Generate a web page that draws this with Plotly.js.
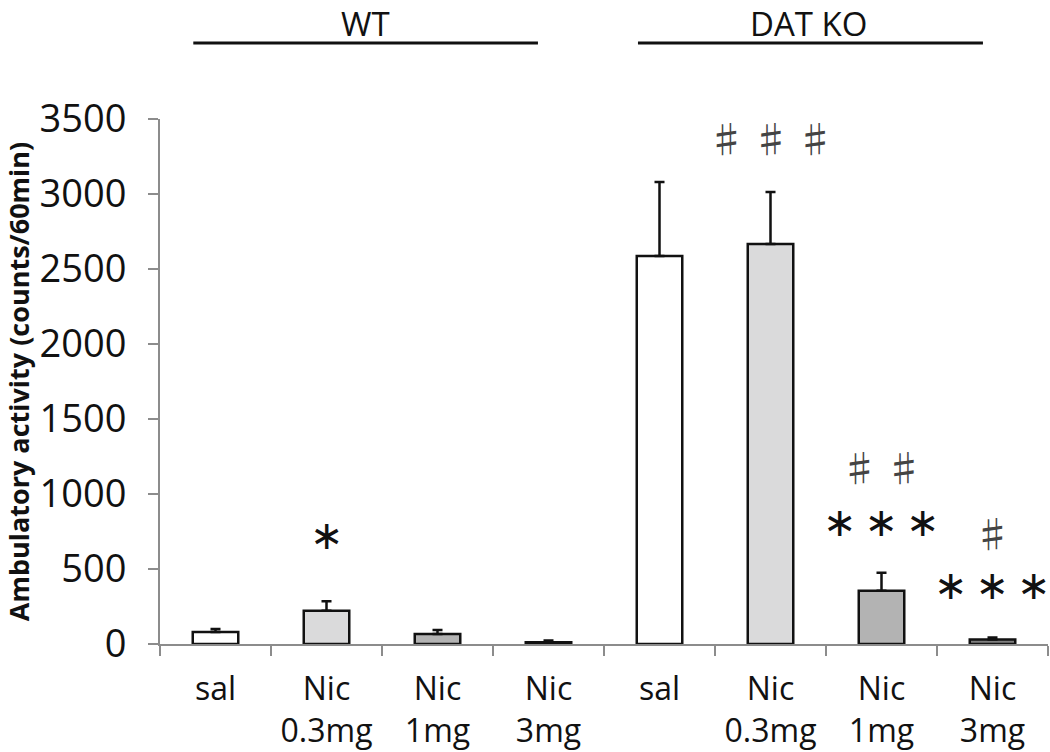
<!DOCTYPE html>
<html>
<head>
<meta charset="utf-8">
<script src="https://cdn.plot.ly/plotly-3.0.1.min.js"></script>
<style>html,body{margin:0;padding:0;background:#fff;}#chart{width:1050px;height:752px;}</style>
</head>
<body>
<div id="chart"></div>
<script>
// ---- data ----
const tickLabels = ["sal", "Nic<br>0.3mg", "Nic<br>1mg", "Nic<br>3mg", "sal", "Nic<br>0.3mg", "Nic<br>1mg", "Nic<br>3mg"];
const values = [80, 222, 67, 12, 2587, 2667, 355, 30];
const errors = [20, 63, 26, 12, 493, 346, 120, 14];
const barColors = ["#ffffff", "#dadadb", "#b3b3b3", "#7f7f7f", "#ffffff", "#dadadb", "#b3b3b3", "#7f7f7f"];
const groupLabels = ["WT", "DAT KO"];
const sigText = ["∗", "♯\u2009♯\u2009♯", "♯\u2009♯", "∗\u2009∗\u2009∗", "♯", "∗\u2009∗\u2009∗"];
const sigCat = [1, 5, 6, 6, 7, 7];
const sigY = [727, 3373, 1180, 813, 740, 393];
const sigKind = ["star", "sharp", "sharp", "star", "sharp", "star"];

const idx = values.map((_, i) => i);

const trace = {
  type: "bar",
  x: idx,
  y: values,
  width: 0.41,
  marker: {color: barColors, line: {color: "#111", width: 2.5}},
  error_y: {type: "data", symmetric: false, array: errors, arrayminus: errors.map(() => 0),
            color: "#111", thickness: 2.5, width: 5},
  hoverinfo: "y"
};

const annotations = sigText.map((t, i) => ({
  x: sigCat[i], y: sigY[i], xref: "x", yref: "y", text: t, showarrow: false, yanchor: "middle",
  font: sigKind[i] === "star"
    ? {family: "DejaVu Sans", size: 40, color: "#111"}
    : {family: "Noto Sans CJK JP", size: 37, color: "#444"}
}));
annotations.push({x: 1.35, y: 1.2267, xref: "x", yref: "paper", yanchor: "top", borderpad: 0, text: groupLabels[0], showarrow: false,
  font: {family: "Open Sans", size: 33, color: "#111"}});
annotations.push({x: 5.34, y: 1.2267, xref: "x", yref: "paper", yanchor: "top", borderpad: 0, text: groupLabels[1], showarrow: false,
  font: {family: "Open Sans", size: 33, color: "#111"}});

const shapes = [
  {type: "line", xref: "x", yref: "paper", x0: -0.2, x1: 2.905, y0: 1.145, y1: 1.145, line: {color: "#111", width: 3}},
  {type: "line", xref: "x", yref: "paper", x0: 3.806, x1: 6.914, y0: 1.145, y1: 1.145, line: {color: "#111", width: 3}}
];

const layout = {
  width: 1050, height: 752,
  margin: {l: 160, r: 2, t: 119, b: 108},
  paper_bgcolor: "#fff", plot_bgcolor: "#fff",
  showlegend: false,
  font: {family: "Open Sans", color: "#111"},
  xaxis: {
    range: [-0.5, 7.5], tickvals: idx, ticktext: tickLabels, ticks: "",
    minor: {tick0: -0.5, dtick: 1, ticks: "outside", ticklen: 10, tickcolor: "#8c8c8c", tickwidth: 2, showgrid: false},
    showline: true, linecolor: "#8c8c8c", linewidth: 2, showgrid: false, zeroline: false,
    tickfont: {family: "Open Sans", size: 32, color: "#111"}, ticklabelstandoff: 16,
    fixedrange: true
  },
  yaxis: {
    range: [0, 3500], dtick: 500, ticks: "outside", ticklen: 10, tickcolor: "#8c8c8c", tickwidth: 2,
    showline: true, linecolor: "#8c8c8c", linewidth: 2, showgrid: false, zeroline: false,
    tickfont: {family: "Open Sans", size: 38, color: "#111"}, ticklabelstandoff: 14,
    title: {text: "Ambulatory activity (counts/60min)", font: {family: "Open Sans", size: 27, color: "#111", weight: "bold"}, standoff: 8},
    automargin: false, fixedrange: true
  },
  annotations: annotations,
  shapes: shapes
};

Plotly.newPlot("chart", [trace], layout, {displayModeBar: false, staticPlot: true});
</script>
</body>
</html>
